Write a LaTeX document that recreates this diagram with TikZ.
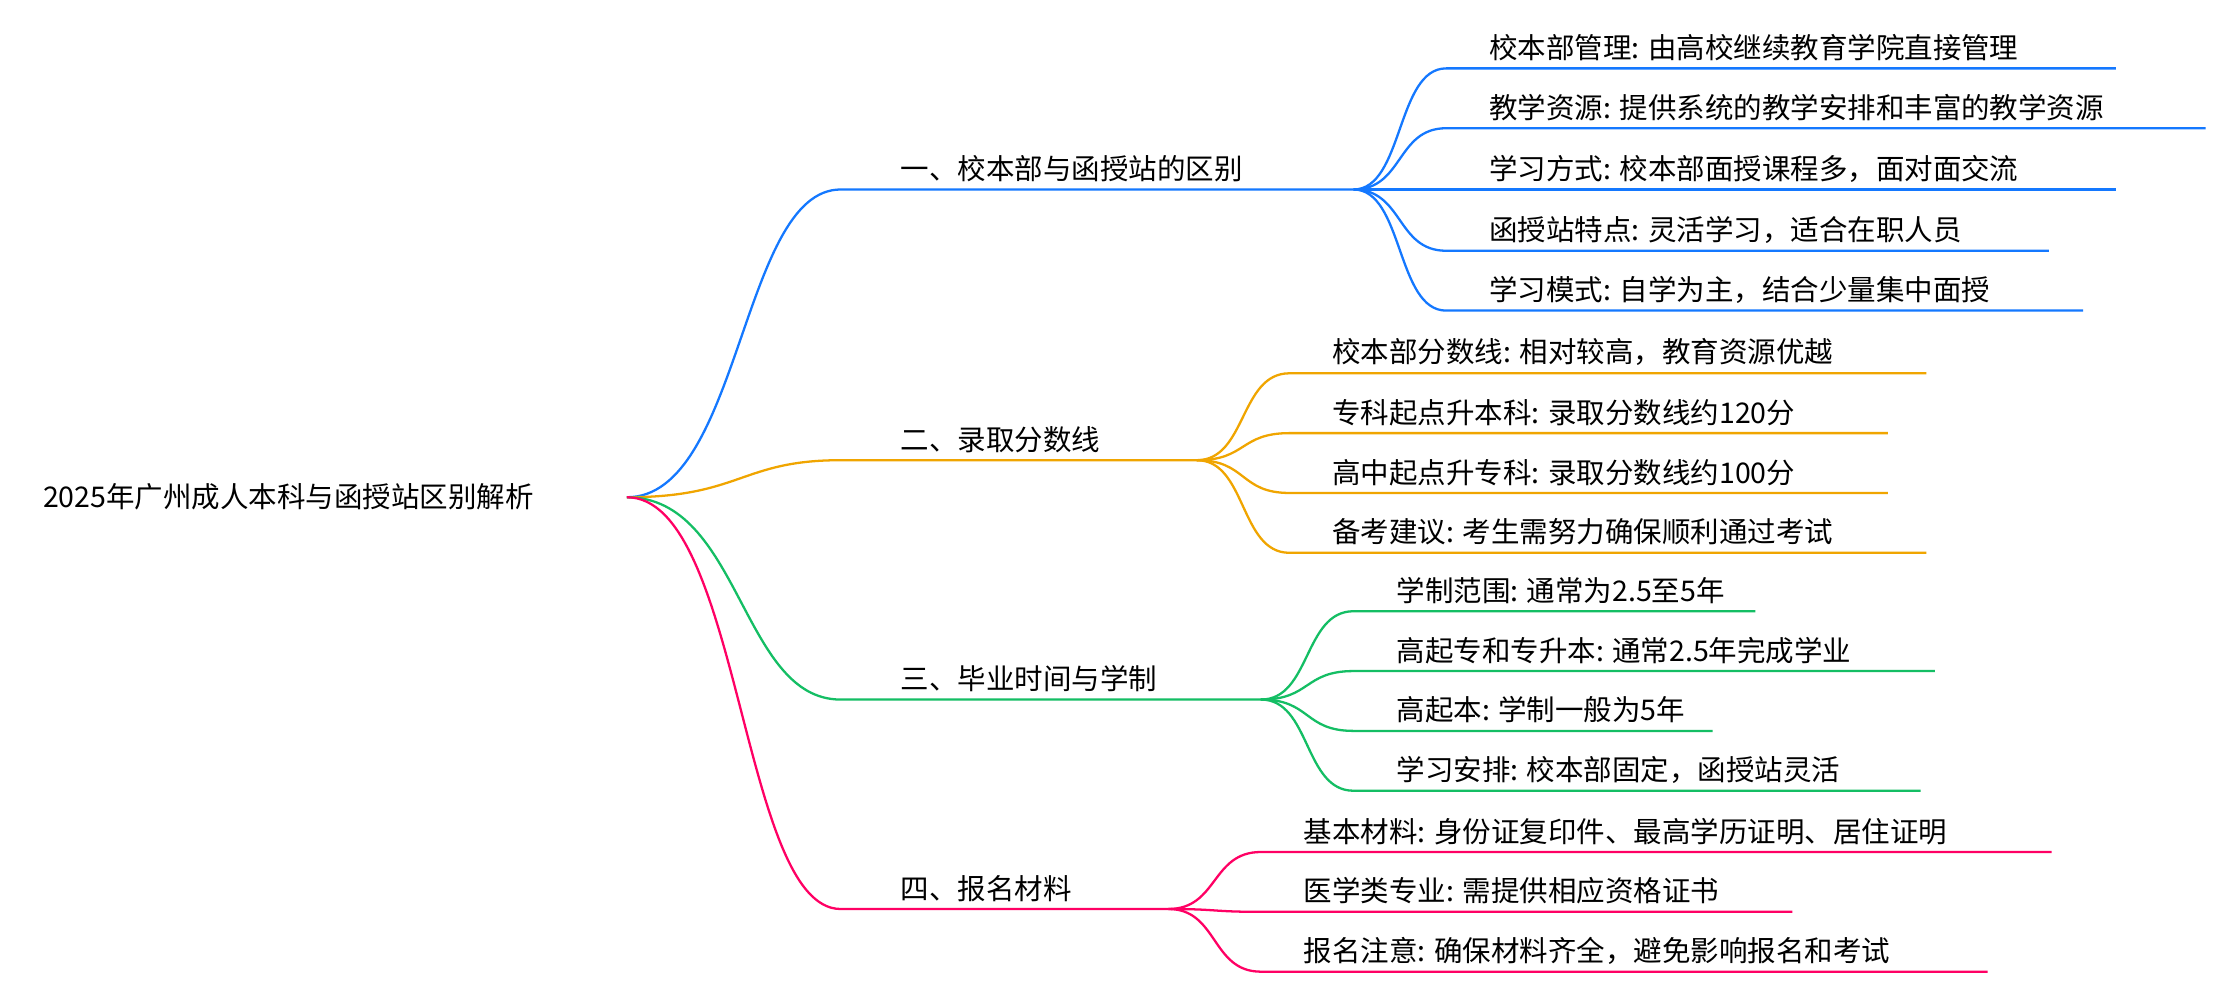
\documentclass[tikz,border=0pt]{standalone}
\usepackage{fontspec}
\setmainfont{Noto Sans CJK SC}
\begin{document}
\begin{tikzpicture}[x=1pt,y=-1pt,
  lbl/.style={anchor=south west,inner sep=0pt,font=\fontsize{20}{24}\selectfont},
  ln/.style={line width=1.6pt}]
\useasboundingbox[fill=white] (0,0) rectangle (1568,696);
\definecolor{cb}{RGB}{20,120,255}
\definecolor{co}{RGB}{240,165,0}
\definecolor{cg}{RGB}{20,190,100}
\definecolor{cp}{RGB}{255,0,100}
\node[lbl,anchor=west] (root) at (30,349) {2025年广州成人本科与函授站区别解析};
\coordinate (r) at (440,349);
% branches: color, y, x-end, label, child start x
\foreach \c/\y/\xe/\t/\n in {cb/133/950/一、校本部与函授站的区别/b1, co/323/840/二、录取分数线/b2, cg/491/885/三、毕业时间与学制/b3, cp/638/820/四、报名材料/b4}{
  \coordinate (\n s) at (590,\y);
  \coordinate (\n e) at (\xe,\y);
  \draw[ln,\c] (r) .. controls (520,349) and (520,\y) .. (\n s) -- (\n e);
  \node[lbl] (\n t) at (632,\y-5) {\t};
}
\foreach \b/\c/\x/\y/\xe/\t [count=\i] in {
 b1/cb/1015/48/1485/校本部管理: 由高校继续教育学院直接管理,
 b1/cb/1015/90/1548/教学资源: 提供系统的教学安排和丰富的教学资源,
 b1/cb/1015/133/1485/学习方式: 校本部面授课程多，面对面交流,
 b1/cb/1015/176/1438/函授站特点: 灵活学习，适合在职人员,
 b1/cb/1015/218/1462/学习模式: 自学为主，结合少量集中面授,
 b2/co/905/262/1352/校本部分数线: 相对较高，教育资源优越,
 b2/co/905/304/1325/专科起点升本科: 录取分数线约120分,
 b2/co/905/346/1325/高中起点升专科: 录取分数线约100分,
 b2/co/905/388/1352/备考建议: 考生需努力确保顺利通过考试,
 b3/cg/950/429/1232/学制范围: 通常为2.5至5年,
 b3/cg/950/471/1358/高起专和专升本: 通常2.5年完成学业,
 b3/cg/950/513/1202/高起本: 学制一般为5年,
 b3/cg/950/555/1348/学习安排: 校本部固定，函授站灵活,
 b4/cp/885/598/1440/基本材料: 身份证复印件、最高学历证明、居住证明,
 b4/cp/885/640/1258/医学类专业: 需提供相应资格证书,
 b4/cp/885/682/1395/报名注意: 确保材料齐全，避免影响报名和考试}{
  \coordinate (c\i s) at (\x,\y);
  \coordinate (c\i e) at (\xe,\y);
  \draw[ln,\c] (\b e) .. controls ([xshift=35]\b e) and (\x-35,\y) .. (c\i s) -- (c\i e);
  \node[lbl] (c\i t) at (\x+30,\y-5) {\t};
}
\end{tikzpicture}
\end{document}
